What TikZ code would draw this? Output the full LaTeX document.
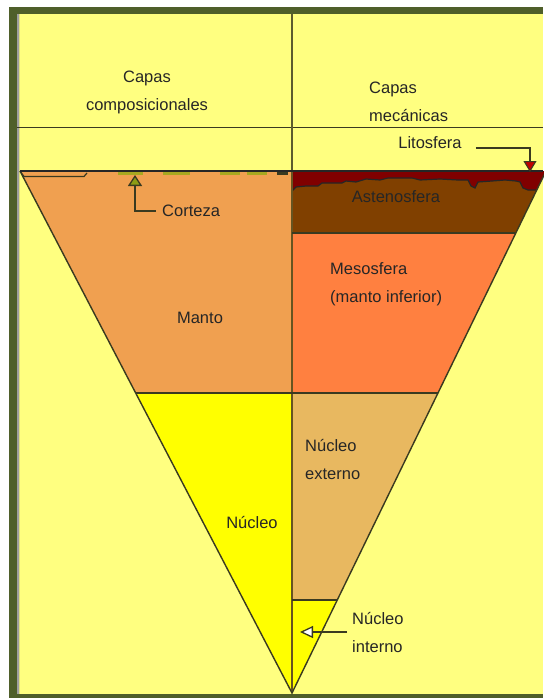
\documentclass[tikz,border=0pt]{standalone}
\usepackage{fontspec}
\setmainfont{Liberation Sans}
\usetikzlibrary{arrows.meta}

\definecolor{framegreen}{HTML}{4F5F2A}
\definecolor{paper}{HTML}{FFFF80}
\definecolor{mantle}{HTML}{F0A050}
\definecolor{meso}{HTML}{FF8040}
\definecolor{asthen}{HTML}{804000}
\definecolor{lithored}{HTML}{800000}
\definecolor{coreyellow}{HTML}{FFFF00}
\definecolor{outercore}{HTML}{E8B860}
\definecolor{crust}{HTML}{A8A820}
\definecolor{crustarrow}{HTML}{8C9C14}
\definecolor{pinred}{HTML}{C00000}
\definecolor{edge}{HTML}{3A3A20}
\definecolor{divider}{HTML}{5C5C2E}

\begin{document}
\begin{tikzpicture}[x=1pt,y=-1pt,
  lbl/.style={font=\fontsize{16.5}{28}\selectfont, text=black!85, inner sep=0pt},
  edgeline/.style={draw=edge, line width=1.4pt},
  pointer/.style={draw=edge, line width=1.3pt}]

% page, frame and paper
\useasboundingbox (0,0) rectangle (543,698);
\fill[white] (0,0) rectangle (543,698);
\fill[framegreen] (9,7) rectangle (543,698);
\fill[paper] (17,14) rectangle (543,694);
\fill[gray!75] (17,14) rectangle (18.5,694);
\fill[paper!75!gray] (18.5,14) rectangle (20,694);

% header rule and column divider
\draw[edge, line width=1.2pt] (17,127.5) -- (543,127.5);
\draw[divider, line width=2pt] (292,14) -- (292,693);

% corners of the section
\coordinate (L) at (20,171);
\coordinate (R) at (546,171);
\coordinate (A) at (292,693);

% layer fills, clipped to the section
\begin{scope}
  \clip (L) -- (R) -- (A) -- cycle;
  \fill[mantle] (0,171) rectangle (292,393);
  \fill[coreyellow] (0,393) rectangle (292,693);
  \fill[asthen] (292,171) rectangle (560,233);
  \fill[meso] (292,233) rectangle (560,393);
  \fill[outercore] (292,393) rectangle (560,600);
  \fill[coreyellow] (292,600) rectangle (560,693);
  % lithosphere with a ragged base
  \fill[lithored] (292,171) -- (292,191) -- (296,187) -- (306,186) -- (318,186)
    -- (322,183) -- (342,183) -- (346,181) -- (356,182) -- (366,179) -- (380,180)
    -- (388,178) -- (412,178) -- (420,180) -- (440,179) -- (458,180) -- (468,180)
    -- (471,186) -- (475,188) -- (478,182) -- (492,181) -- (505,180) -- (516,181)
    -- (520,182) -- (523,188) -- (528,190) -- (560,190) -- (560,171) -- cycle;
  \draw[black!85, line width=1.2pt] (292,191) -- (296,187) -- (306,186) -- (318,186)
    -- (322,183) -- (342,183) -- (346,181) -- (356,182) -- (366,179) -- (380,180)
    -- (388,178) -- (412,178) -- (420,180) -- (440,179) -- (458,180) -- (468,180)
    -- (471,186) -- (475,188) -- (478,182) -- (492,181) -- (505,180) -- (516,181)
    -- (520,182) -- (523,188) -- (528,190) -- (560,190);
  \draw[divider!70!asthen, line width=2pt] (292,171) -- (292,693);
\end{scope}

% layer boundaries
\draw[edgeline] (135.7,393) -- (437.5,393);
\draw[edgeline] (292,233) -- (515,233);
\draw[edgeline] (292,600) -- (337,600);
\draw[edgeline] (L) -- (A) -- (R);

% crust traces along the surface
\fill[crust] (118,171.5) rectangle (143,174.5);
\fill[crust] (163,171.5) rectangle (190,174.5);
\fill[crust] (220,171.5) rectangle (240,174.5);
\fill[crust] (247,171.5) rectangle (267,174.5);
\fill[edge] (277,171.5) rectangle (288,175);
\draw[edge, line width=1.2pt] (20,171) -- (24,176.5) -- (84,176.5) -- (87,173);

% surface
\draw[black!85, line width=1.5pt] (20,171) -- (543,171);

% column headings
\node[lbl, align=center] (hcomp) at (147,92.5) {Capas\\composicionales};
\node[lbl, align=left, anchor=west] (hmech) at (369,101.5) {Capas\\mecánicas};

% layer names
\node[lbl] (tlito) at (430,143) {Litosfera};
\node[lbl] (tasteno) at (396,197) {Astenosfera};
\node[lbl, anchor=west] (tcorteza) at (162,211) {Corteza};
\node[lbl] (tmanto) at (200,318) {Manto};
\node[lbl, align=left, anchor=west] (tmeso) at (330,284) {Mesosfera\\(manto inferior)};
\node[lbl] (tnucleo) at (252,522) {Núcleo};
\node[lbl, align=left, anchor=west] (tnucext) at (305,459) {Núcleo\\externo};
\node[lbl, align=left, anchor=west] (tnucint) at (352,632) {Núcleo\\interno};

% pointers
\coordinate (cbend) at (135,211);
\coordinate (ctip) at (135,175);
\draw[pointer, -{Triangle[width=14pt,length=11pt,fill=crustarrow]}]
  ([xshift=-6pt]tcorteza.west) -- (cbend) -- (ctip);

\coordinate (lbend) at (530,148);
\coordinate (ltip) at (530,172);
\draw[pointer, line width=1.1pt, -{Triangle[width=13pt,length=11pt,fill=pinred]}]
  ([xshift=14pt,yshift=-5pt]tlito.east) -- (lbend) -- (ltip);

\coordinate (itip) at (300,632);
\draw[pointer, -{Triangle[width=12pt,length=13pt,fill=white]}]
  ([xshift=-5pt]tnucint.west) -- (itip);

\end{tikzpicture}
\end{document}
